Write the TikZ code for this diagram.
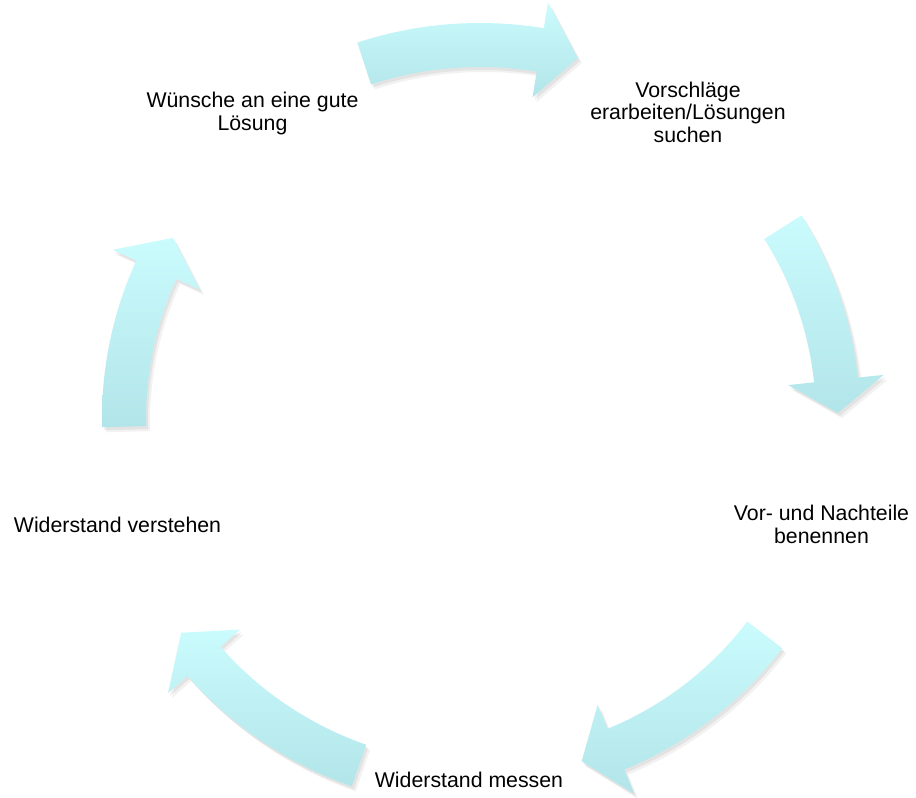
\documentclass[tikz,border=0pt]{standalone}
\usepackage{fontspec}
\setmainfont{Liberation Sans}
\definecolor{arrowtop}{RGB}{202,251,253}
\definecolor{arrowbot}{RGB}{178,229,233}
\newcommand\cyclearrowpath[4]{%
 plot[domain=#2:#3, samples=40] ({480+(#1+22)*cos(\x)},{418-(#1+22)*sin(\x)})
 -- ({480+(#1+48)*cos(#3)},{418-(#1+48)*sin(#3)})
 -- ({480+(#1)*cos(#4)},{418-(#1)*sin(#4)})
 -- ({480+(#1-48)*cos(#3)},{418-(#1-48)*sin(#3)})
 -- plot[domain=#3:#2, samples=40] ({480+(#1-22)*cos(\x)},{418-(#1-22)*sin(\x)})
 -- cycle}
\newcommand\cyclearrow[4]{%
 \fill[black, opacity=0.05, shift={(4,5)}] \cyclearrowpath{#1}{#2}{#3}{#4};
 \fill[black, opacity=0.06, shift={(2,3)}] \cyclearrowpath{#1}{#2}{#3}{#4};
 \shade[top color=arrowtop, bottom color=arrowbot] \cyclearrowpath{#1}{#2}{#3}{#4};
}
\tikzset{lbl/.style={inner sep=0pt, align=center, anchor=base, text=black,
  font=\fontsize{21.3}{22.5}\selectfont}}
\begin{document}
\begin{tikzpicture}[x=1pt, y=-1pt]
\useasboundingbox[fill=white] (0,0) rectangle (916,798);
% arrows (radius, tail angle, head-base angle, tip angle)
\cyclearrow{373}{108.1}{80.7}{74.8}
\cyclearrow{358}{32.2}{6.1}{0.8}
\cyclearrow{358}{-37.3}{-67.7}{-73.5}
\cyclearrow{368}{250.8}{221.4}{215.7}
\cyclearrow{356}{181.4}{155.4}{149.6}
% labels (anchor = baseline of the last line)
\node[lbl] (wish) at (252.5,130) {Wünsche an eine gute\\Lösung};
\node[lbl] (prop) at (688,142) {Vorschläge\\erarbeiten/Lösungen\\suchen};
\node[lbl] (pros) at (821.5,543) {Vor- und Nachteile\\benennen};
\node[lbl] (meas) at (469,787) {Widerstand messen};
\node[lbl] (unds) at (117.5,532) {Widerstand verstehen};
\end{tikzpicture}
\end{document}
